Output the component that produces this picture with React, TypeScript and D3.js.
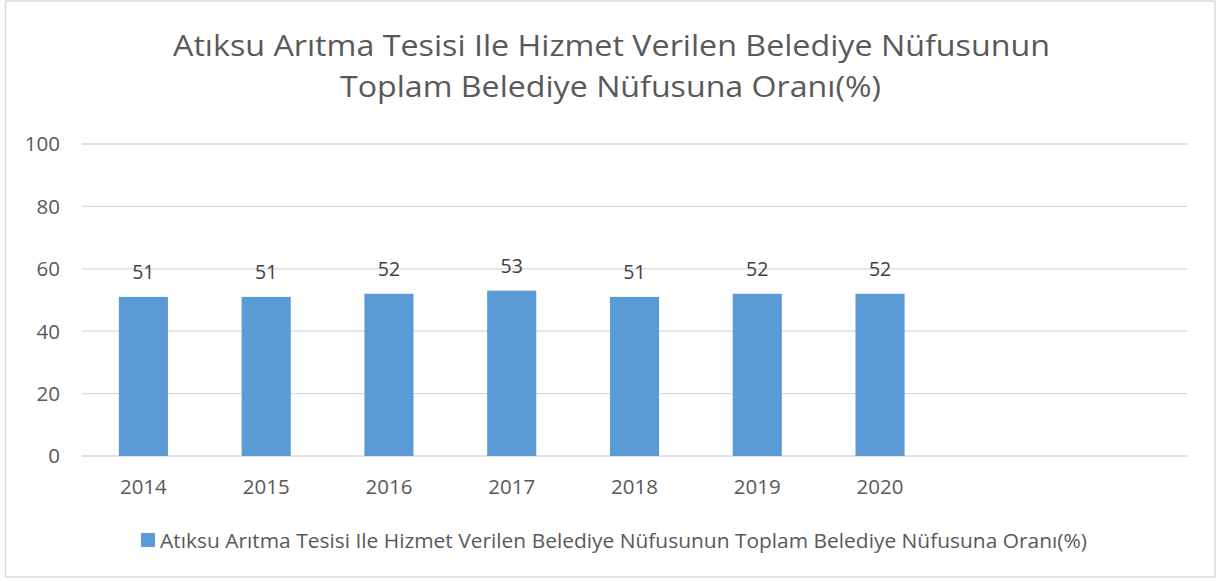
import React from "react";
import * as d3 from "d3";

const categories = ["2014", "2015", "2016", "2017", "2018", "2019", "2020", "", " "];
const values = [51, 51, 52, 53, 51, 52, 52];
const yTicks = [0, 20, 40, 60, 80, 100];
const titleLines = [
  "Atıksu Arıtma Tesisi Ile Hizmet Verilen Belediye Nüfusunun",
  "Toplam Belediye Nüfusuna Oranı(%)",
];
const seriesName = "Atıksu Arıtma Tesisi Ile Hizmet Verilen Belediye Nüfusunun Toplam Belediye Nüfusuna Oranı(%)";

const W = 1217;
const H = 581;
const FONT = "'Open Sans', 'Noto Sans', sans-serif";
const TEXT = "#595959";
const BAR = "#5B9BD5";

export default function App() {
  const left = 82;
  const right = 1187;
  const top = 144;
  const bottom = 456;
  const x = d3.scaleBand<string>().domain(categories).range([left, right]).paddingInner(0.6).paddingOuter(0.3);
  const y = d3.scaleLinear().domain([0, 100]).range([bottom, top]);

  return (
    <svg width={W} height={H} style={{ position: "absolute", left: 0, top: 0, fontFamily: FONT }}>
      <rect x={0} y={0} width={W} height={H} fill="#fff" />
      <rect x={5.5} y={1} width={1209.5} height={576} fill="#fff" stroke="#d9d9d9" strokeWidth={1.5} />
      {titleLines.map((t, i) => (
        <text
          key={i}
          x={[173, 340][i]}
          y={[56, 97][i]}
          fontSize={29}
          fill={TEXT}
          textLength={[877, 541][i]}
          lengthAdjust="spacingAndGlyphs"
        >
          {t}
        </text>
      ))}
      {yTicks.map((t) => (
        <g key={t}>
          <line x1={left} x2={right} y1={y(t)} y2={y(t)} stroke="#d9d9d9" strokeWidth={1.3} />
          <text x={60} y={y(t)} dy="0.36em" textAnchor="end" fontSize={20.5} fill={TEXT}>
            {t}
          </text>
        </g>
      ))}
      {values.map((v, i) => {
        const cx = (x(categories[i]) as number) + x.bandwidth() / 2;
        return (
          <g key={i}>
            <rect x={x(categories[i])} y={y(v)} width={x.bandwidth()} height={bottom - y(v)} fill={BAR} />
            <text x={cx} y={y(v) - 17.5} textAnchor="middle" fontSize={19.5} fill="#404040">
              {v}
            </text>
          </g>
        );
      })}
      {categories.map((c, i) => (
        <text
          key={i}
          x={(x(c) as number) + x.bandwidth() / 2}
          y={487}
          dy="0.36em"
          textAnchor="middle"
          fontSize={20.5}
          fill={TEXT}
        >
          {c.trim()}
        </text>
      ))}
      <rect x={141} y={533} width={14} height={14} fill={BAR} />
      <text x={160} y={548} fontSize={20} fill={TEXT} textLength={927} lengthAdjust="spacingAndGlyphs">
        {seriesName}
      </text>
    </svg>
  );
}
